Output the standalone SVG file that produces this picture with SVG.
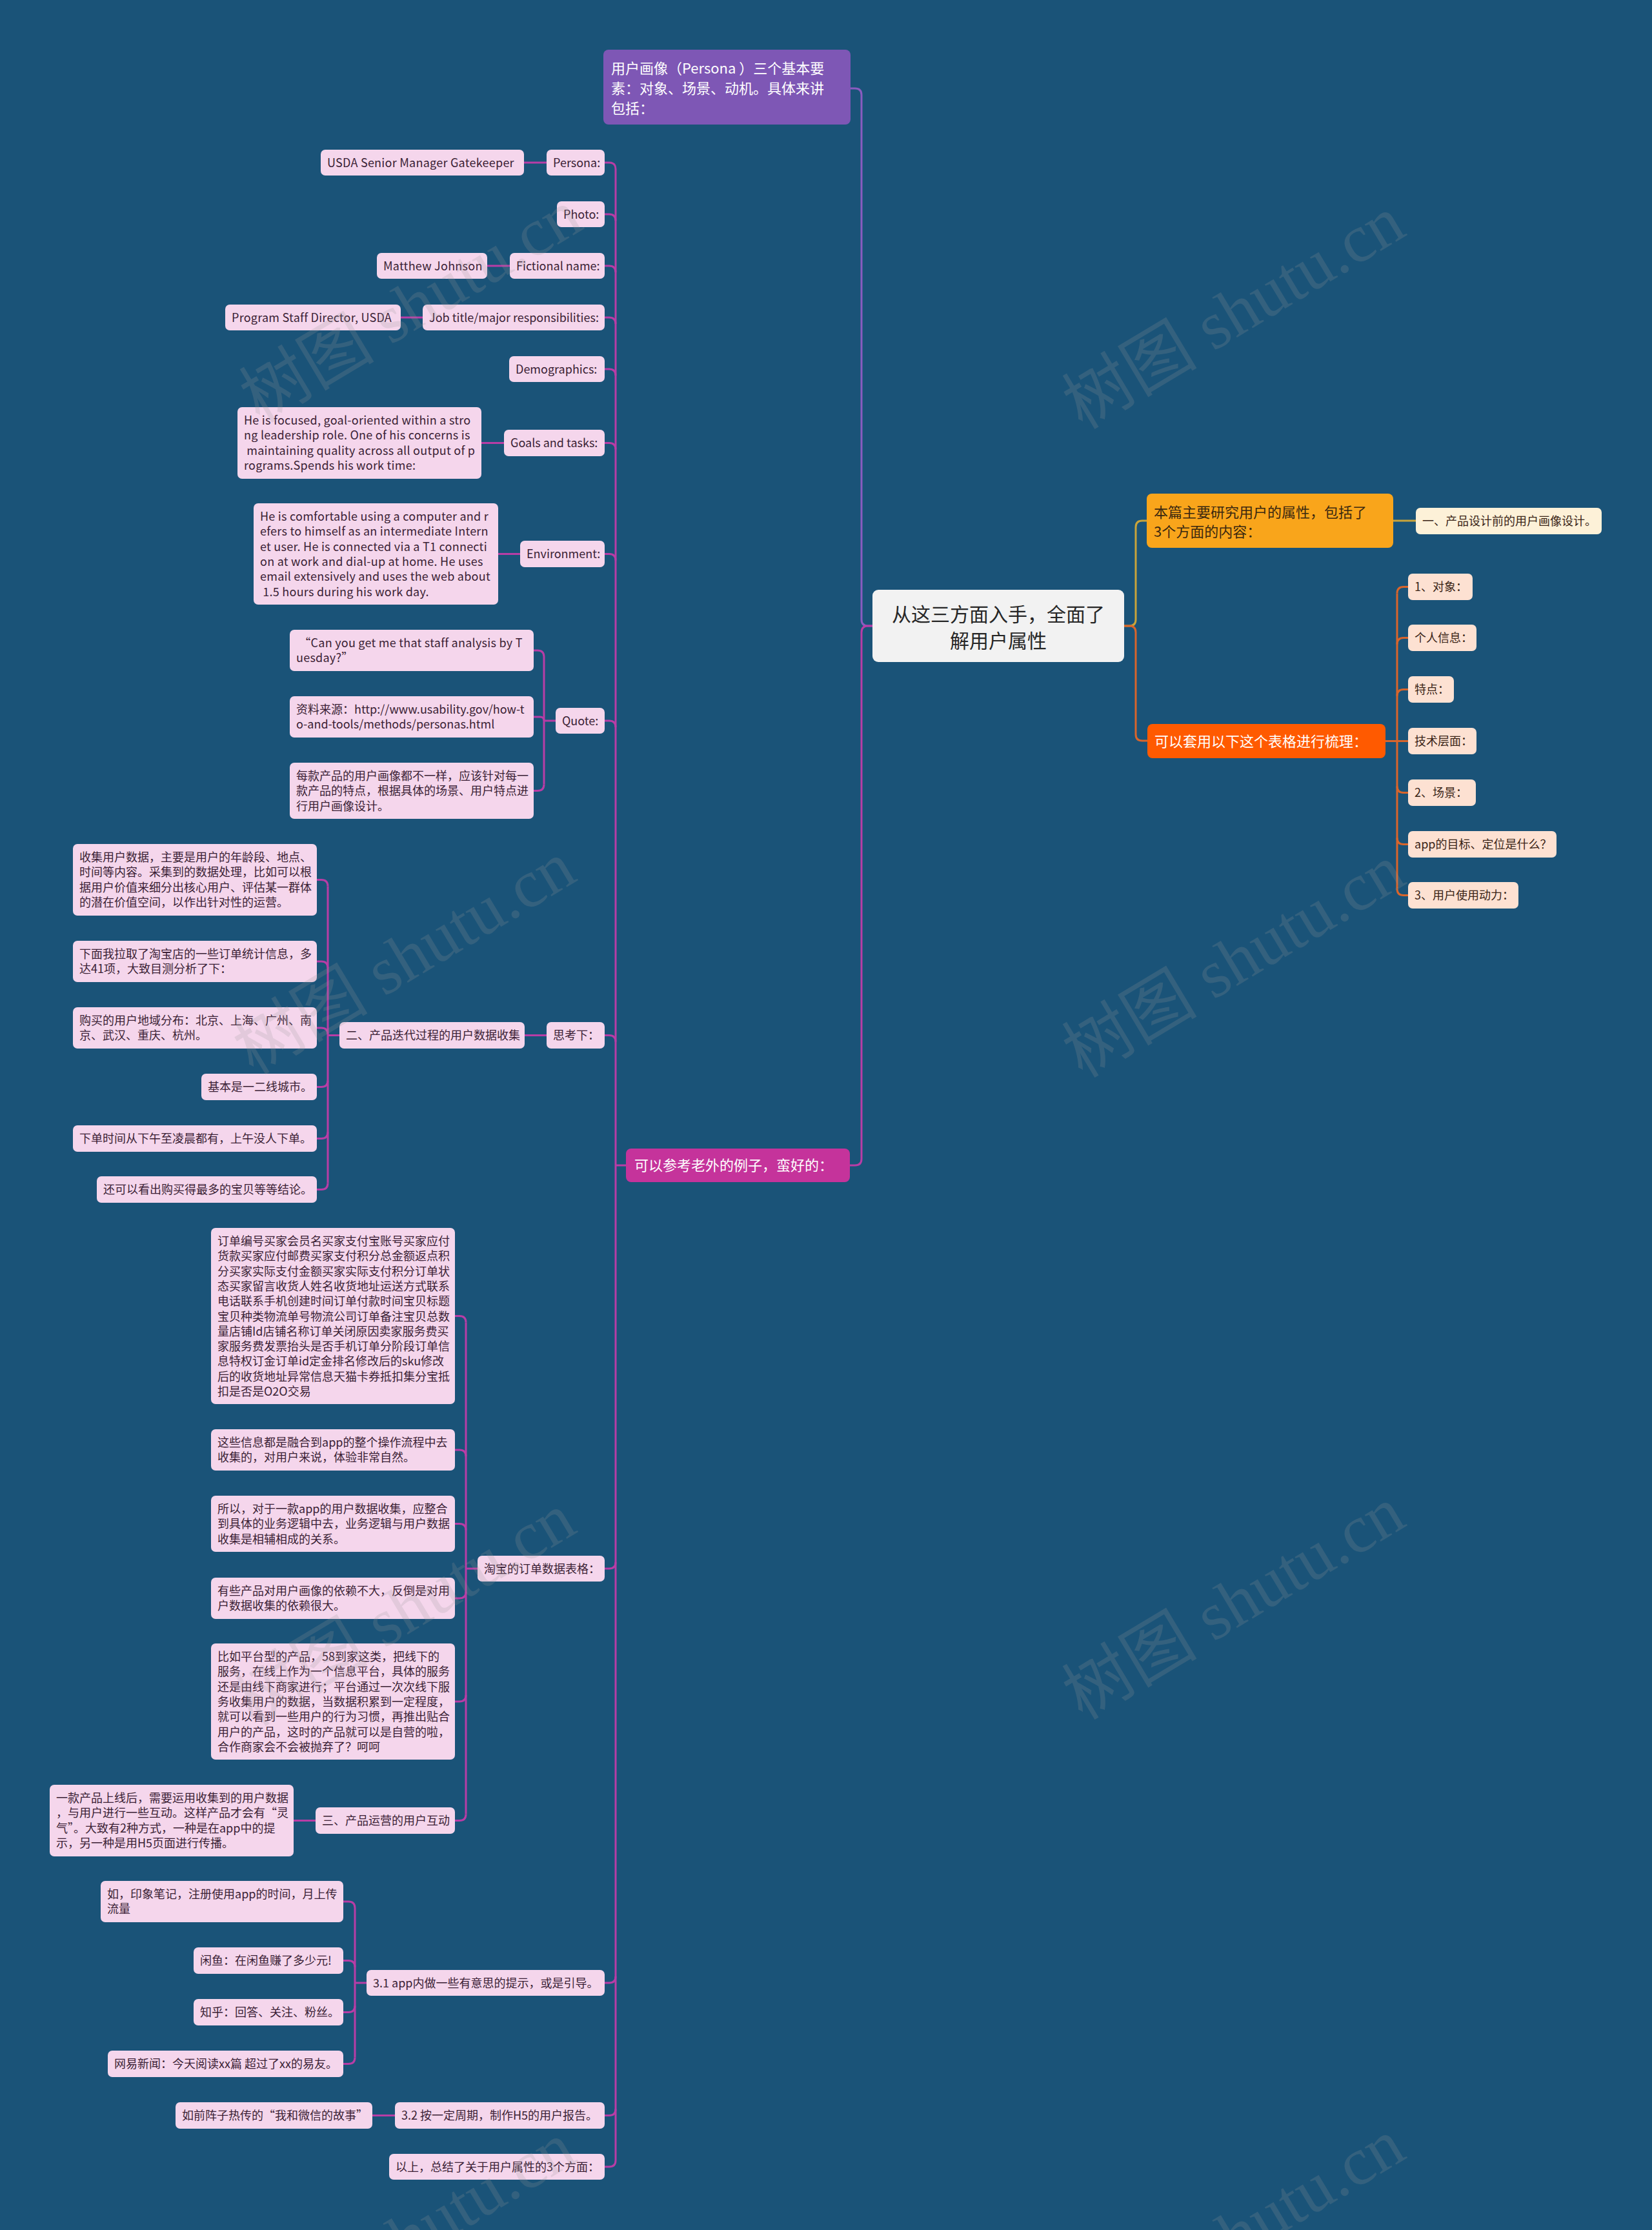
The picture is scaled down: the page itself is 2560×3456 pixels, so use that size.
<svg xmlns="http://www.w3.org/2000/svg" width="2560" height="3456" viewBox="0 0 2560 3456">
<style>
.pk{fill:#f5d6ec}
.pe{fill:#fde1d2}
.cr{fill:#fdf1d8}
.t{font-family:"Noto Sans CJK SC","Noto Sans",sans-serif;font-size:18px;fill:#3b1f35}
.en{letter-spacing:0.25px}
.tr{font-family:"Noto Sans CJK SC","Noto Sans",sans-serif;font-size:18px;fill:#3a2416}
.big{font-family:"Noto Sans CJK SC","Noto Sans",sans-serif;font-size:22px}
.w{fill:#ffffff}
.lm{fill:none;stroke:#b83da6;stroke-width:3}
.lp{fill:none;stroke:#8a5cc0;stroke-width:3}
.lg{fill:none;stroke:#c9a43a;stroke-width:3}
.lo{fill:none;stroke:#d9652b;stroke-width:3}
.wm{font-family:"Liberation Serif","Noto Sans CJK SC",serif;font-size:105px;fill:#9a9a9a;opacity:0.2}
</style>
<rect x="0" y="0" width="2560" height="3456" fill="#1a5378"/>

<g id="connectors">
  <path class="lp" d="M1352 970 H1345 Q1335 970 1335 960 V147 Q1335 137 1325 137 H1318"/>
  <path class="lm" d="M1352 970 H1345 Q1335 970 1335 980 V1796 Q1335 1806 1325 1806 H1317"/>
  <path class="lg" d="M1742 970 H1750 Q1760 970 1760 960 V817 Q1760 807 1770 807 H1777"/>
  <path class="lo" d="M1742 970 H1750 Q1760 970 1760 980 V1138 Q1760 1148 1770 1148 H1778"/>
  <path class="lg" d="M2159 807 H2194"/>
  <path class="lo" d="M2147 1148.5 H2182"/>
  <path class="lo" d="M2165 919.5 V1377.5"/>
  <path class="lo" d="M2165 919.5 Q2165 909.5 2175 909.5 H2182"/>
  <path class="lo" d="M2165 998.5 Q2165 988.5 2175 988.5 H2182"/>
  <path class="lo" d="M2165 1078.5 Q2165 1068.5 2175 1068.5 H2182"/>
  <path class="lo" d="M2165 1218.5 Q2165 1228.5 2175 1228.5 H2182"/>
  <path class="lo" d="M2165 1298.5 Q2165 1308.5 2175 1308.5 H2182"/>
  <path class="lo" d="M2165 1377.5 Q2165 1387.5 2175 1387.5 H2182"/>
  <path class="lm" d="M970 1806 H954"/>
  <path class="lm" d="M954 262 V3348"/>
  <path class="lm" d="M937 252 H944 Q954 252 954 262"/>
  <path class="lm" d="M937 332 H944 Q954 332 954 342"/>
  <path class="lm" d="M937 412 H944 Q954 412 954 422"/>
  <path class="lm" d="M937 492 H944 Q954 492 954 502"/>
  <path class="lm" d="M937 572 H944 Q954 572 954 582"/>
  <path class="lm" d="M937 686.5 H944 Q954 686.5 954 696.5"/>
  <path class="lm" d="M937 858.5 H944 Q954 858.5 954 868.5"/>
  <path class="lm" d="M937 1117 H944 Q954 1117 954 1127"/>
  <path class="lm" d="M937 1604.5 H944 Q954 1604.5 954 1614.5"/>
  <path class="lm" d="M937 2431 H944 Q954 2431 954 2421"/>
  <path class="lm" d="M937 3073 H944 Q954 3073 954 3063"/>
  <path class="lm" d="M937 3278.5 H944 Q954 3278.5 954 3268.5"/>
  <path class="lm" d="M937 3358 H944 Q954 3358 954 3348"/>
  <path class="lm" d="M812 252 H847"/>
  <path class="lm" d="M755 412 H790"/>
  <path class="lm" d="M621 492 H655"/>
  <path class="lm" d="M746 686.5 H781"/>
  <path class="lm" d="M772 858.5 H806"/>
  <path class="lm" d="M813 1604.5 H847"/>
  <path class="lm" d="M455 2821.5 H489"/>
  <path class="lm" d="M577 3278.5 H612"/>
  <path class="lm" d="M861 1117 H843"/>
  <path class="lm" d="M843 1018 V1215.5"/>
  <path class="lm" d="M827 1008 H833 Q843 1008 843 1018"/>
  <path class="lm" d="M827 1111 H837 Q843 1111 843 1117"/>
  <path class="lm" d="M827 1225.5 H833 Q843 1225.5 843 1215.5"/>
  <path class="lm" d="M526 1604.5 H508"/>
  <path class="lm" d="M508 1373.5 V1833.5"/>
  <path class="lm" d="M491 1363.5 H498 Q508 1363.5 508 1373.5"/>
  <path class="lm" d="M491 1490 H498 Q508 1490 508 1500"/>
  <path class="lm" d="M491 1593 H498 Q508 1593 508 1603"/>
  <path class="lm" d="M491 1684.5 H498 Q508 1684.5 508 1674.5"/>
  <path class="lm" d="M491 1764.5 H498 Q508 1764.5 508 1754.5"/>
  <path class="lm" d="M491 1843.5 H498 Q508 1843.5 508 1833.5"/>
  <path class="lm" d="M740 2431 H722"/>
  <path class="lm" d="M722 2049.5 V2811.5"/>
  <path class="lm" d="M705 2039.5 H712 Q722 2039.5 722 2049.5"/>
  <path class="lm" d="M705 2247 H712 Q722 2247 722 2257"/>
  <path class="lm" d="M705 2361.5 H712 Q722 2361.5 722 2371.5"/>
  <path class="lm" d="M705 2477 H712 Q722 2477 722 2467"/>
  <path class="lm" d="M705 2637 H712 Q722 2637 722 2627"/>
  <path class="lm" d="M705 2821.5 H712 Q722 2821.5 722 2811.5"/>
  <path class="lm" d="M568 3073 H550"/>
  <path class="lm" d="M550 2957 V3188.5"/>
  <path class="lm" d="M532 2947 H540 Q550 2947 550 2957"/>
  <path class="lm" d="M532 3038.5 H540 Q550 3038.5 550 3048.5"/>
  <path class="lm" d="M532 3118.5 H540 Q550 3118.5 550 3108.5"/>
  <path class="lm" d="M532 3198.5 H540 Q550 3198.5 550 3188.5"/>
</g>

<g id="root">
  <rect x="1352" y="914" width="390" height="112" rx="9" fill="#f2f2f2"/>
  <text x="1547" y="963" text-anchor="middle" font-family="Noto Sans CJK SC, sans-serif" font-size="30" fill="#262626">从这三方面入手，全面了</text>
  <text x="1547" y="1004" text-anchor="middle" font-family="Noto Sans CJK SC, sans-serif" font-size="30" fill="#262626">解用户属性</text>
</g>

<g id="n-intro">
  <rect x="1777" y="765" width="382" height="84" rx="8" fill="#f9a51b"/>
  <text class="big" fill="#3a2810" x="1788" y="802">本篇主要研究用户的属性，包括了</text>
  <text class="big" fill="#3a2810" x="1788" y="832">3个方面的内容：</text>
</g>
<g id="n-design"><rect class="cr" x="2194" y="787" width="288" height="41" rx="7"/><text class="tr" x="2204" y="814">一、产品设计前的用户画像设计。</text></g>
<g id="n-table">
  <rect x="1778" y="1122" width="369" height="53" rx="8" fill="#ff5a00"/>
  <text class="big w" x="1789" y="1157">可以套用以下这个表格进行梳理：</text>
</g>
<g id="n-obj"><rect class="pe" x="2182" y="889" width="100" height="41" rx="7"/><text class="tr" x="2192" y="916">1、对象：</text></g>
<g id="n-info"><rect class="pe" x="2182" y="968" width="106" height="41" rx="7"/><text class="tr" x="2192" y="995">个人信息：</text></g>
<g id="n-feat"><rect class="pe" x="2182" y="1048" width="71" height="41" rx="7"/><text class="tr" x="2192" y="1075">特点：</text></g>
<g id="n-tech"><rect class="pe" x="2182" y="1128" width="106" height="41" rx="7"/><text class="tr" x="2192" y="1155">技术层面：</text></g>
<g id="n-scene"><rect class="pe" x="2182" y="1208" width="105" height="41" rx="7"/><text class="tr" x="2192" y="1235">2、场景：</text></g>
<g id="n-goal"><rect class="pe" x="2182" y="1288" width="230" height="41" rx="7"/><text class="tr" x="2192" y="1315">app的目标、定位是什么？</text></g>
<g id="n-motive"><rect class="pe" x="2182" y="1367" width="171" height="41" rx="7"/><text class="tr" x="2192" y="1394">3、用户使用动力：</text></g>

<g id="n-persona-main">
  <rect x="935" y="77" width="383" height="116" rx="8" fill="#7e57b5"/>
  <text class="big w" x="947" y="114">用户画像（Persona ）三个基本要</text>
  <text class="big w" x="947" y="145">素：对象、场景、动机。具体来讲</text>
  <text class="big w" x="947" y="176">包括：</text>
</g>
<g id="n-example">
  <rect x="970" y="1780" width="347" height="52" rx="8" fill="#c5339b"/>
  <text class="big w" x="983" y="1814">可以参考老外的例子，蛮好的：</text>
</g>

<g id="n-persona"><rect class="pk" x="847" y="232" width="90" height="40" rx="7"/><text class="t" x="857" y="259">Persona:</text></g>
<g id="n-usda"><rect class="pk" x="497" y="232" width="315" height="40" rx="7"/><text class="t en" x="507" y="259">USDA Senior Manager Gatekeeper</text></g>
<g id="n-photo"><rect class="pk" x="863" y="312" width="74" height="40" rx="7"/><text class="t" x="873" y="339">Photo:</text></g>
<g id="n-fname"><rect class="pk" x="790" y="392" width="147" height="40" rx="7"/><text class="t" x="800" y="419">Fictional name:</text></g>
<g id="n-matthew"><rect class="pk" x="584" y="392" width="171" height="40" rx="7"/><text class="t en" x="594" y="419">Matthew Johnson</text></g>
<g id="n-job"><rect class="pk" x="655" y="472" width="282" height="40" rx="7"/><text class="t" x="665" y="499">Job title/major responsibilities:</text></g>
<g id="n-program"><rect class="pk" x="349" y="472" width="272" height="40" rx="7"/><text class="t en" x="359" y="499">Program Staff Director, USDA</text></g>
<g id="n-demo"><rect class="pk" x="789" y="552" width="148" height="40" rx="7"/><text class="t" x="799" y="579">Demographics:</text></g>
<g id="n-goals"><rect class="pk" x="781" y="666" width="156" height="41" rx="7"/><text class="t" x="791" y="693">Goals and tasks:</text></g>
<g id="n-goalstext"><rect class="pk" x="368" y="631" width="378" height="111" rx="7"/>
  <text class="t en" xml:space="preserve"><tspan x="378" y="658">He is focused, goal-oriented within a stro</tspan><tspan x="378" y="681.3">ng leadership role. One of his concerns is</tspan><tspan x="378" y="704.6"> maintaining quality across all output of p</tspan><tspan x="378" y="727.9">rograms.Spends his work time:</tspan></text></g>
<g id="n-env"><rect class="pk" x="806" y="838" width="131" height="41" rx="7"/><text class="t" x="816" y="865">Environment:</text></g>
<g id="n-envtext"><rect class="pk" x="393" y="780" width="379" height="157" rx="7"/>
  <text class="t en" xml:space="preserve"><tspan x="403" y="807">He is comfortable using a computer and r</tspan><tspan x="403" y="830.3">efers to himself as an intermediate Intern</tspan><tspan x="403" y="853.6">et user. He is connected via a T1 connecti</tspan><tspan x="403" y="876.9">on at work and dial-up at home. He uses</tspan><tspan x="403" y="900.2">email extensively and uses the web about</tspan><tspan x="403" y="923.5"> 1.5 hours during his work day.</tspan></text></g>
<g id="n-quote"><rect class="pk" x="861" y="1097" width="76" height="40" rx="7"/><text class="t" x="871" y="1124">Quote:</text></g>
<g id="n-q1"><rect class="pk" x="449" y="976" width="378" height="64" rx="7"/>
  <text class="t en" xml:space="preserve"><tspan x="459" y="1003"> “Can you get me that staff analysis by T</tspan><tspan x="459" y="1026.3">uesday?”</tspan></text></g>
<g id="n-q2"><rect class="pk" x="449" y="1079" width="378" height="64" rx="7"/>
  <text class="t"><tspan x="459" y="1106">资料来源：http://www.usability.gov/how-t</tspan><tspan x="459" y="1129.3">o-and-tools/methods/personas.html</tspan></text></g>
<g id="n-q3"><rect class="pk" x="449" y="1182" width="378" height="87" rx="7"/>
  <text class="t"><tspan x="459" y="1209">每款产品的用户画像都不一样，应该针对每一</tspan><tspan x="459" y="1232.3">款产品的特点，根据具体的场景、用户特点进</tspan><tspan x="459" y="1255.6">行用户画像设计。</tspan></text></g>

<g id="n-think"><rect class="pk" x="847" y="1584" width="90" height="41" rx="7"/><text class="t" x="857" y="1611">思考下：</text></g>
<g id="n-iter"><rect class="pk" x="526" y="1584" width="287" height="41" rx="7"/><text class="t" x="536" y="1611">二、产品迭代过程的用户数据收集</text></g>
<g id="n-collect"><rect class="pk" x="113" y="1308" width="378" height="111" rx="7"/>
  <text class="t"><tspan x="123" y="1335">收集用户数据，主要是用户的年龄段、地点、</tspan><tspan x="123" y="1358.3">时间等内容。采集到的数据处理，比如可以根</tspan><tspan x="123" y="1381.6">据用户价值来细分出核心用户、评估某一群体</tspan><tspan x="123" y="1404.9">的潜在价值空间，以作出针对性的运营。</tspan></text></g>
<g id="n-pull"><rect class="pk" x="113" y="1458" width="378" height="64" rx="7"/>
  <text class="t"><tspan x="123" y="1485">下面我拉取了淘宝店的一些订单统计信息，多</tspan><tspan x="123" y="1508.3">达41项，大致目测分析了下：</tspan></text></g>
<g id="n-region"><rect class="pk" x="113" y="1561" width="378" height="64" rx="7"/>
  <text class="t"><tspan x="123" y="1588">购买的用户地域分布：北京、上海、广州、南</tspan><tspan x="123" y="1611.3">京、武汉、重庆、杭州。</tspan></text></g>
<g id="n-tier"><rect class="pk" x="312" y="1664" width="179" height="41" rx="7"/><text class="t" x="322" y="1691">基本是一二线城市。</text></g>
<g id="n-time"><rect class="pk" x="113" y="1744" width="378" height="41" rx="7"/><text class="t" x="123" y="1771">下单时间从下午至凌晨都有，上午没人下单。</text></g>
<g id="n-most"><rect class="pk" x="150" y="1823" width="341" height="41" rx="7"/><text class="t" x="160" y="1850">还可以看出购买得最多的宝贝等等结论。</text></g>

<g id="n-taobao"><rect class="pk" x="740" y="2411" width="197" height="40" rx="7"/><text class="t" x="750" y="2438">淘宝的订单数据表格：</text></g>
<g id="n-fields"><rect class="pk" x="327" y="1903" width="378" height="273" rx="7"/>
  <text class="t"><tspan x="337" y="1930">订单编号买家会员名买家支付宝账号买家应付</tspan><tspan x="337" y="1953.3">货款买家应付邮费买家支付积分总金额返点积</tspan><tspan x="337" y="1976.6">分买家实际支付金额买家实际支付积分订单状</tspan><tspan x="337" y="1999.9">态买家留言收货人姓名收货地址运送方式联系</tspan><tspan x="337" y="2023.2">电话联系手机创建时间订单付款时间宝贝标题</tspan><tspan x="337" y="2046.5">宝贝种类物流单号物流公司订单备注宝贝总数</tspan><tspan x="337" y="2069.8">量店铺Id店铺名称订单关闭原因卖家服务费买</tspan><tspan x="337" y="2093.1">家服务费发票抬头是否手机订单分阶段订单信</tspan><tspan x="337" y="2116.4">息特权订金订单id定金排名修改后的sku修改</tspan><tspan x="337" y="2139.7">后的收货地址异常信息天猫卡券抵扣集分宝抵</tspan><tspan x="337" y="2163">扣是否是O2O交易</tspan></text></g>
<g id="n-these"><rect class="pk" x="327" y="2215" width="378" height="64" rx="7"/>
  <text class="t"><tspan x="337" y="2242">这些信息都是融合到app的整个操作流程中去</tspan><tspan x="337" y="2265.3">收集的，对用户来说，体验非常自然。</tspan></text></g>
<g id="n-so"><rect class="pk" x="327" y="2318" width="378" height="87" rx="7"/>
  <text class="t"><tspan x="337" y="2345">所以，对于一款app的用户数据收集，应整合</tspan><tspan x="337" y="2368.3">到具体的业务逻辑中去，业务逻辑与用户数据</tspan><tspan x="337" y="2391.6">收集是相辅相成的关系。</tspan></text></g>
<g id="n-some"><rect class="pk" x="327" y="2445" width="378" height="64" rx="7"/>
  <text class="t"><tspan x="337" y="2472">有些产品对用户画像的依赖不大，反倒是对用</tspan><tspan x="337" y="2495.3">户数据收集的依赖很大。</tspan></text></g>
<g id="n-platform"><rect class="pk" x="327" y="2547" width="378" height="180" rx="7"/>
  <text class="t"><tspan x="337" y="2574">比如平台型的产品，58到家这类，把线下的</tspan><tspan x="337" y="2597.3">服务，在线上作为一个信息平台，具体的服务</tspan><tspan x="337" y="2620.6">还是由线下商家进行；平台通过一次次线下服</tspan><tspan x="337" y="2643.9">务收集用户的数据，当数据积累到一定程度，</tspan><tspan x="337" y="2667.2">就可以看到一些用户的行为习惯，再推出贴合</tspan><tspan x="337" y="2690.5">用户的产品，这时的产品就可以是自营的啦，</tspan><tspan x="337" y="2713.8">合作商家会不会被抛弃了？呵呵</tspan></text></g>
<g id="n-ops"><rect class="pk" x="489" y="2801" width="216" height="41" rx="7"/><text class="t" x="499" y="2828">三、产品运营的用户互动</text></g>
<g id="n-online"><rect class="pk" x="77" y="2766" width="378" height="111" rx="7"/>
  <text class="t"><tspan x="87" y="2793">一款产品上线后，需要运用收集到的用户数据</tspan><tspan x="87" y="2816.3">，与用户进行一些互动。这样产品才会有“灵</tspan><tspan x="87" y="2839.6">气”。大致有2种方式，一种是在app中的提</tspan><tspan x="87" y="2862.9">示，另一种是用H5页面进行传播。</tspan></text></g>

<g id="n-31"><rect class="pk" x="568" y="3053" width="369" height="40" rx="7"/><text class="t" x="578" y="3080">3.1 app内做一些有意思的提示，或是引导。</text></g>
<g id="n-yinxiang"><rect class="pk" x="156" y="2915" width="376" height="64" rx="7"/>
  <text class="t"><tspan x="166" y="2942">如，印象笔记，注册使用app的时间，月上传</tspan><tspan x="166" y="2965.3">流量</tspan></text></g>
<g id="n-xianyu"><rect class="pk" x="300" y="3018" width="232" height="41" rx="7"/><text class="t" x="310" y="3045">闲鱼：在闲鱼赚了多少元!</text></g>
<g id="n-zhihu"><rect class="pk" x="300" y="3098" width="232" height="41" rx="7"/><text class="t" x="310" y="3125">知乎：回答、关注、粉丝。</text></g>
<g id="n-wangyi"><rect class="pk" x="167" y="3178" width="365" height="41" rx="7"/><text class="t" x="177" y="3205" xml:space="preserve">网易新闻：今天阅读xx篇 超过了xx的易友。</text></g>
<g id="n-32"><rect class="pk" x="612" y="3258" width="325" height="41" rx="7"/><text class="t" x="622" y="3285">3.2 按一定周期，制作H5的用户报告。</text></g>
<g id="n-story"><rect class="pk" x="272" y="3258" width="305" height="41" rx="7"/><text class="t" x="282" y="3285">如前阵子热传的“我和微信的故事”</text></g>
<g id="n-summary"><rect class="pk" x="603" y="3338" width="334" height="40" rx="7"/><text class="t" x="613" y="3365">以上，总结了关于用户属性的3个方面：</text></g>

<g id="watermark">
  <text class="wm" text-anchor="middle" transform="translate(655 505) rotate(-31)">树图 shutu.cn</text>
  <text class="wm" text-anchor="middle" transform="translate(1930 515) rotate(-31)">树图 shutu.cn</text>
  <text class="wm" text-anchor="middle" transform="translate(645 1515) rotate(-31)">树图 shutu.cn</text>
  <text class="wm" text-anchor="middle" transform="translate(1930 1520) rotate(-31)">树图 shutu.cn</text>
  <text class="wm" text-anchor="middle" transform="translate(645 2525) rotate(-31)">树图 shutu.cn</text>
  <text class="wm" text-anchor="middle" transform="translate(1930 2515) rotate(-31)">树图 shutu.cn</text>
  <text class="wm" text-anchor="middle" transform="translate(645 3500) rotate(-31)">树图 shutu.cn</text>
  <text class="wm" text-anchor="middle" transform="translate(1930 3495) rotate(-31)">树图 shutu.cn</text>
</g>
</svg>
